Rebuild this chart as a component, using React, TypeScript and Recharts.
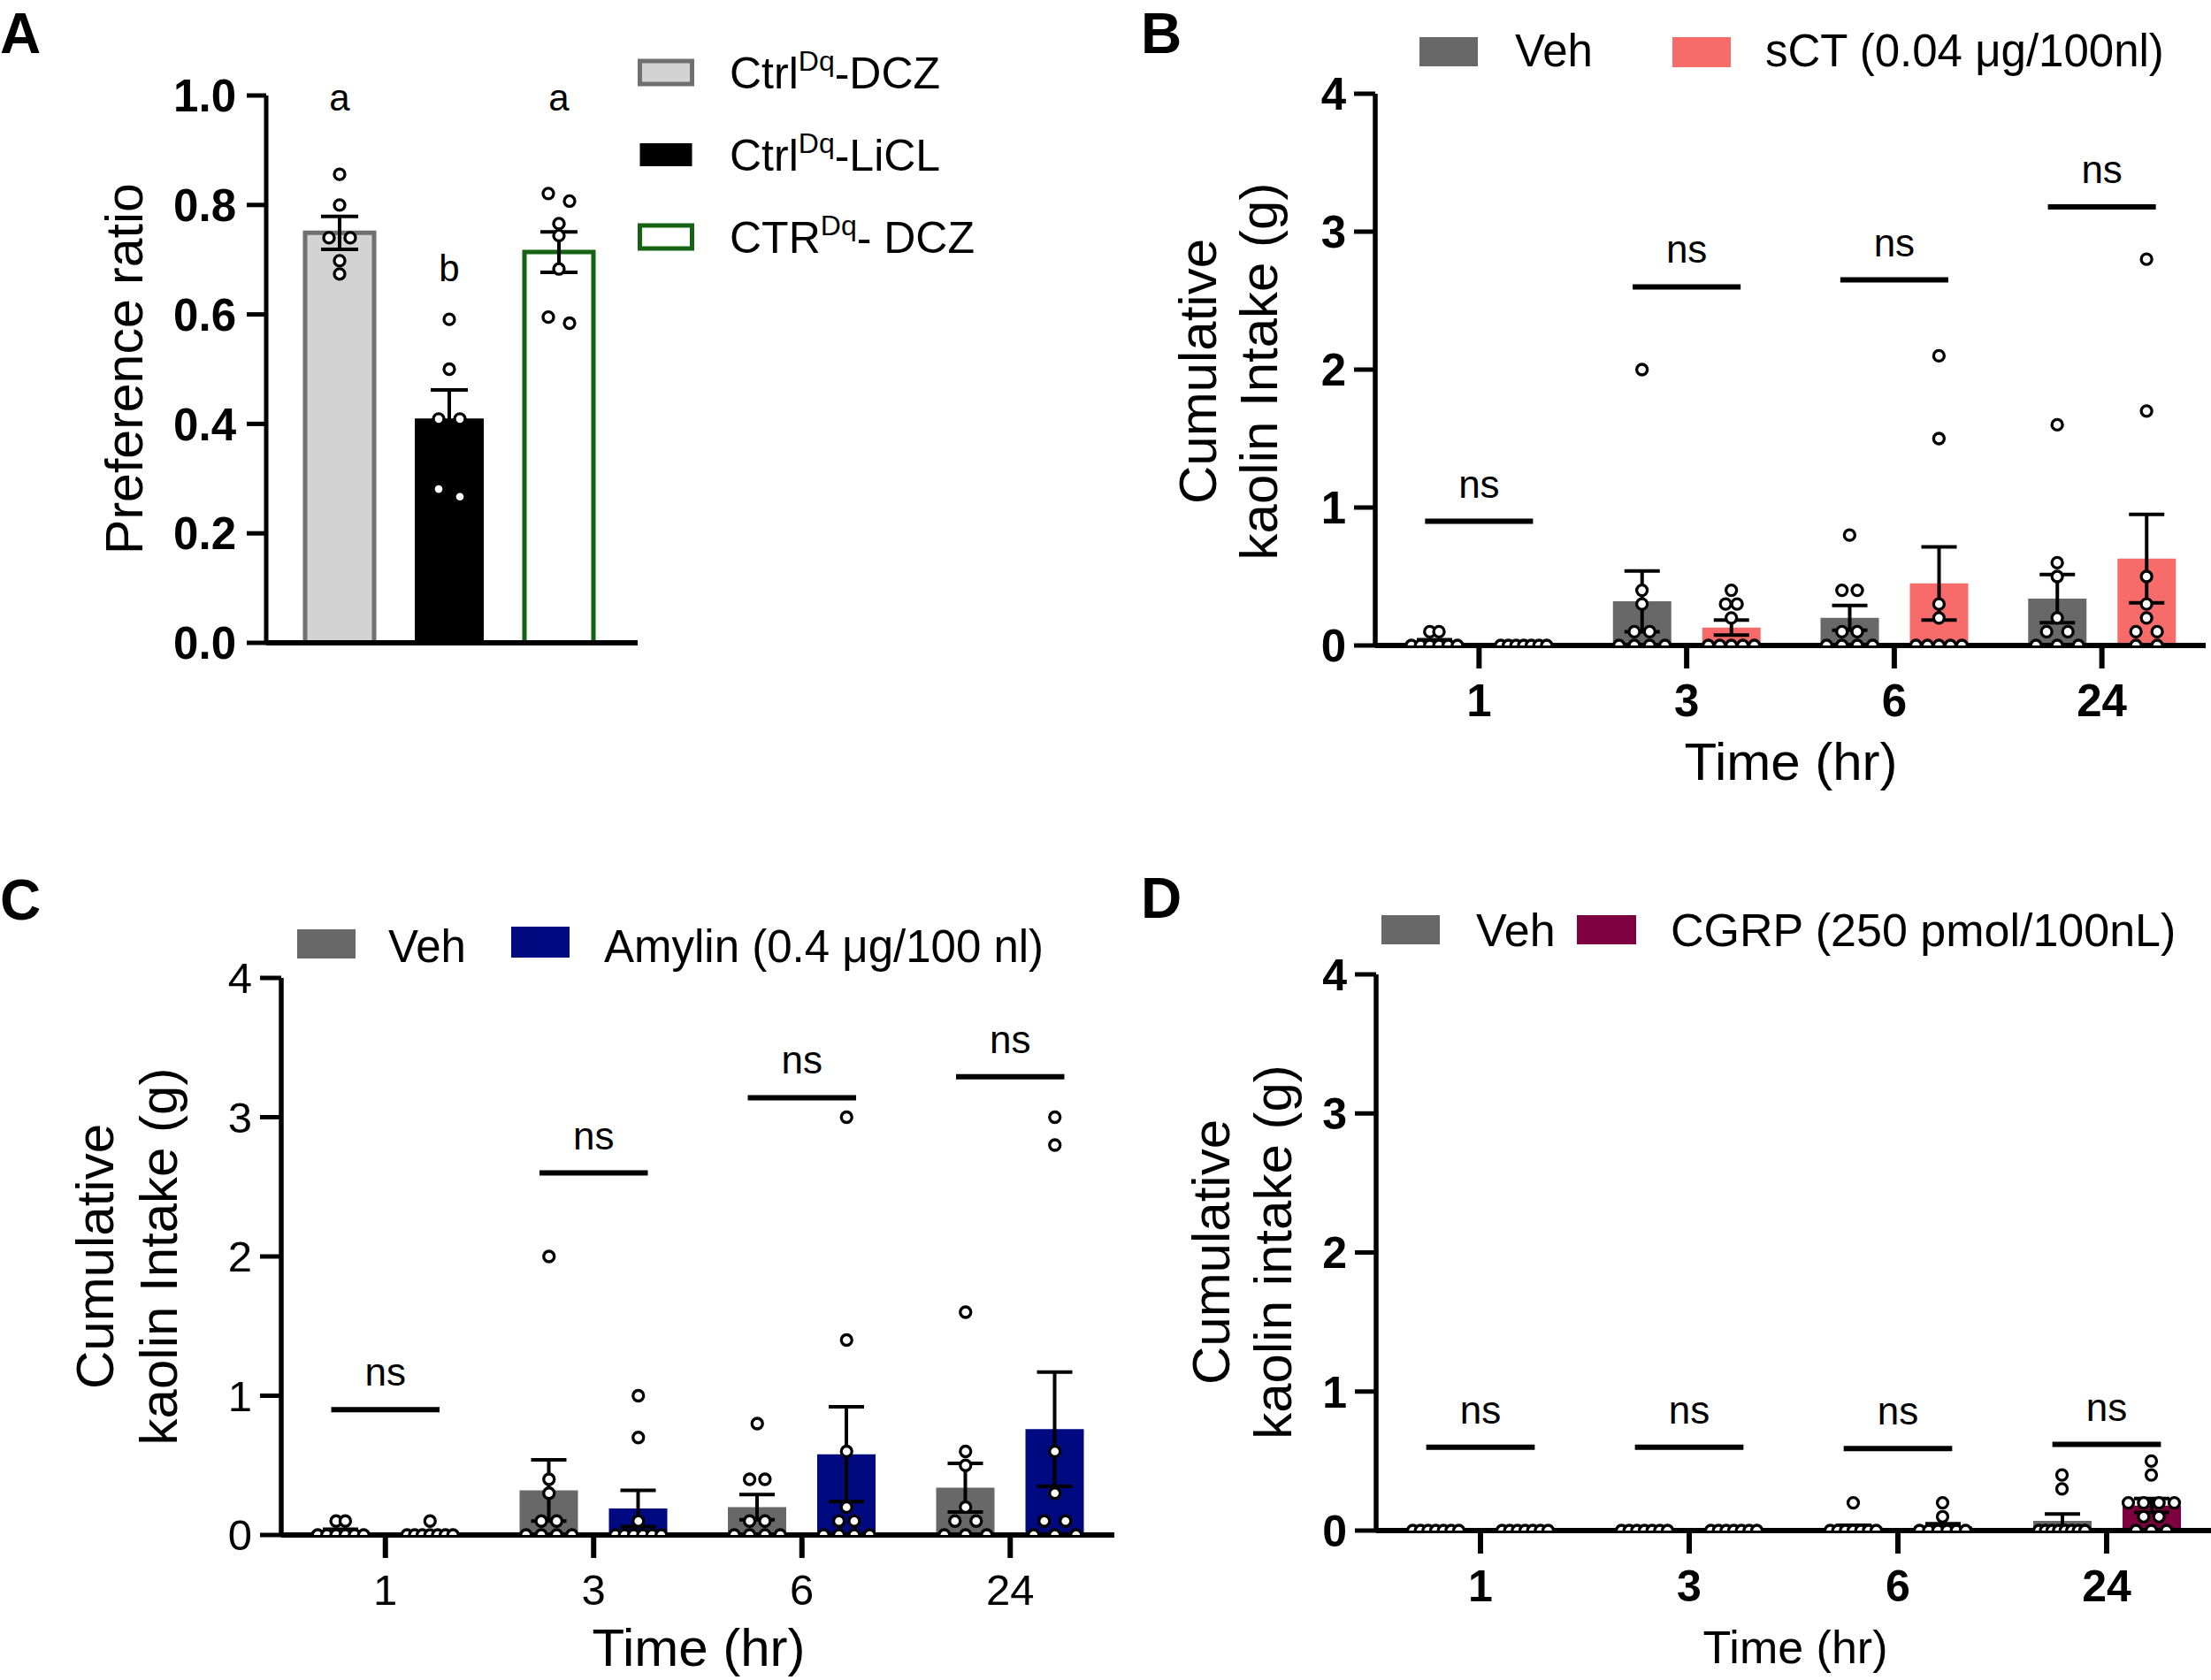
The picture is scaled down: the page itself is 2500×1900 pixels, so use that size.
import React from "react";
import {
  ComposedChart,
  Bar,
  Cell,
  XAxis,
  YAxis,
  Scatter,
  ErrorBar,
  ReferenceLine,
  ReferenceDot,
} from "recharts";

const FONT = "'Liberation Sans', Arial, Helvetica, sans-serif";

// ---- Panel A: preference ratio ----
const prefGroups = ["Ctrl-DCZ", "Ctrl-LiCL", "CTR-DCZ"];
const prefMeans = [0.749, 0.41, 0.714];
const prefSem = [0.03, 0.052, 0.037];
const prefPoints = [
  [0.856, 0.8, 0.74, 0.74, 0.698, 0.674],
  [0.591, 0.5, 0.409, 0.409, 0.281, 0.267],
  [0.821, 0.807, 0.766, 0.744, 0.683, 0.595, 0.584],
];
const prefLetters = ["a", "b", "a"];
const prefLetterY = [0.997, 0.685, 0.997];
const prefTicks = [0, 0.2, 0.4, 0.6, 0.8, 1.0];

// ---- Panels B-D: cumulative kaolin intake ----
const hours = ["1", "3", "6", "24"];
const kaolinTicks = [0, 1, 2, 3, 4];

// vehicle group (same animals in B and C)
const vehMeans = [0.025, 0.32, 0.2, 0.34];
const vehSem = [0.016, 0.22, 0.09, 0.175];
const vehPoints = [
  [0.1, 0.1, 0, 0, 0, 0, 0, 0],
  [2.0, 0.4, 0.3, 0.1, 0.1, 0, 0, 0, 0],
  [0.8, 0.4, 0.4, 0.1, 0.1, 0, 0, 0, 0],
  [1.6, 0.6, 0.5, 0.2, 0.1, 0.1, 0, 0, 0],
];

const sctMeans = [0, 0.13, 0.45, 0.63];
const sctSem = [0, 0.055, 0.265, 0.32];
const sctPoints = [
  [0, 0, 0, 0, 0, 0, 0],
  [0.4, 0.3, 0.3, 0.2, 0, 0, 0, 0, 0],
  [2.1, 1.5, 0.3, 0.2, 0, 0, 0, 0, 0],
  [2.8, 1.7, 0.5, 0.3, 0.2, 0.1, 0.1, 0, 0],
];
const sctNs = [0.9, 2.6, 2.65, 3.18];

const amyMeans = [0.012, 0.19, 0.58, 0.76];
const amySem = [0.012, 0.13, 0.34, 0.41];
const amyPoints = [
  [0.1, 0, 0, 0, 0, 0, 0, 0],
  [1.0, 0.7, 0.1, 0, 0, 0, 0, 0, 0],
  [3.0, 1.4, 0.6, 0.2, 0.1, 0.1, 0, 0, 0, 0],
  [3.0, 2.8, 0.6, 0.3, 0.1, 0.1, 0, 0, 0],
];
const amyNs = [0.9, 2.6, 3.14, 3.29];

const cgrpVehMeans = [0, 0, 0.02, 0.07];
const cgrpVehSem = [0, 0, 0.018, 0.05];
const cgrpVehPoints = [
  [0, 0, 0, 0, 0, 0, 0],
  [0, 0, 0, 0, 0, 0, 0],
  [0.2, 0, 0, 0, 0, 0, 0, 0],
  [0.4, 0.3, 0, 0, 0, 0, 0, 0, 0, 0],
];
const cgrpMeans = [0, 0, 0.03, 0.18];
const cgrpSem = [0, 0, 0.02, 0.05];
const cgrpPoints = [
  [0, 0, 0, 0, 0, 0, 0],
  [0, 0, 0, 0, 0, 0, 0],
  [0.2, 0.1, 0, 0, 0, 0, 0, 0],
  [0.5, 0.4, 0.2, 0.2, 0.2, 0.2, 0.1, 0.1, 0, 0, 0],
];
const cgrpNs = [0.6, 0.6, 0.59, 0.62];

const VEH = "#686868";
const SCT = "#f86b6b";
const AMYLIN = "#000a80";
const CGRP = "#7e0040";

// layout
const XH = 60;
const YW = 140;
const DOT_R = 6;
const DOT_D = 14;
const STEP_MAX = 24;
const BAR = 66;
const GAP = 35;

const AXIS = { stroke: "#000", strokeWidth: 6 };
const TICK = { stroke: "#000", strokeWidth: 6 };

// spread points that sit on the same row symmetrically, Prism style
function swarmOffsets(values: number[], pxPerUnit: number, barWidth: number) {
  const order = values.map((_, i) => i).sort((a, b) => values[b] - values[a]);
  const rows: number[][] = [];
  order.forEach((i) => {
    const row = rows[rows.length - 1];
    if (row && (values[row[0]] - values[i]) * pxPerUnit < DOT_D * 0.9) row.push(i);
    else rows.push([i]);
  });
  const widest = Math.max(...rows.map((r) => r.length));
  const step = widest > 1 ? Math.min(STEP_MAX, (barWidth - DOT_D) / (widest - 1)) : 0;
  const out = values.map(() => 0);
  rows.forEach((row) =>
    row.forEach((i, k) => {
      out[i] = (k - (row.length - 1) / 2) * step;
    })
  );
  return out;
}

const Dot = (props: any) => (
  <circle cx={props.cx} cy={props.cy} r={DOT_R} fill="#fff" stroke="#000" strokeWidth={3.3} />
);

function PreferencePanel() {
  const box = { x: 0, y: 0, w: 760, h: 900, mt: 108, mr: 39, mb: 113, ml: 171 };
  const yw = 130;
  const pad = { left: 21, right: 27 };
  const plotW = box.w - box.ml - yw - box.mr;
  const plotH = box.h - box.mt - box.mb - XH;
  const band = (plotW - pad.left - pad.right) / prefGroups.length;
  const fills = ["#d3d3d3", "#000000", "#ffffff"];
  const strokes = ["#707070", "none", "#136313"];

  const rows = prefGroups.map((g, i) => ({ name: g, mean: prefMeans[i], sem: prefSem[i] }));
  const dots = prefPoints.flatMap((vals, i) => {
    const off = swarmOffsets(vals, plotH, 78);
    return vals.map((v, k) => ({ gx: i + 0.5 + off[k] / band, v }));
  });

  return (
    <div style={{ position: "absolute", left: box.x, top: box.y }}>
      <ComposedChart
        width={box.w}
        height={box.h}
        data={rows}
        margin={{ top: box.mt, right: box.mr, bottom: box.mb, left: box.ml }}
      >
        <XAxis
          dataKey="name"
          height={XH}
          padding={pad}
          interval={0}
          tick={false}
          tickSize={27}
          axisLine={AXIS}
          tickLine={TICK}
        />
        <XAxis xAxisId="pts" type="number" dataKey="gx" domain={[0, 3]} padding={pad} allowDataOverflow hide />
        <YAxis
          width={yw}
          domain={[0, 1]}
          ticks={prefTicks}
          interval={0}
          allowDataOverflow
          tickFormatter={(v: number) => v.toFixed(1)}
          tickSize={22}
          tickMargin={12}
          axisLine={{ stroke: "#000", strokeWidth: 5 }}
          tickLine={{ stroke: "#000", strokeWidth: 5 }}
          tick={{ fill: "#000", fontSize: 51, fontWeight: 700 }}
        />
        <Bar dataKey="mean" barSize={78} isAnimationActive={false}>
          {rows.map((r, i) => (
            <Cell key={r.name} fill={fills[i]} stroke={strokes[i]} strokeWidth={5} />
          ))}
          <ErrorBar dataKey="sem" width={21} stroke="#000" strokeWidth={4} isAnimationActive={false} />
        </Bar>
        {prefLetters.map((l, i) => (
          <ReferenceDot
            key={i}
            xAxisId="pts"
            x={i + 0.5}
            y={prefLetterY[i]}
            r={0}
            fill="none"
            stroke="none"
            ifOverflow="visible"
            label={{ value: l, position: "center", fontSize: 42, fill: "#000" }}
          />
        ))}
        <Scatter xAxisId="pts" data={dots} dataKey="v" shape={Dot} isAnimationActive={false} />
      </ComposedChart>
    </div>
  );
}

type Group = { means: number[]; sem: number[]; points: number[][] };

function KaolinPanel(p: {
  box: { x: number; y: number; w: number; h: number; mt: number; mr: number; mb: number; ml: number };
  veh: Group;
  drug: Group;
  color: string;
  ns: number[];
  yBold: boolean;
  xBold: boolean;
  tickFont: number;
}) {
  const { box } = p;
  const plotW = box.w - box.ml - YW - box.mr;
  const plotH = box.h - box.mt - box.mb - XH;
  const band = plotW / hours.length;
  const ppu = plotH / 4;
  const half = (BAR + GAP) / 2;

  const rows = hours.map((h, i) => ({
    hour: h,
    veh: p.veh.means[i],
    vehErr: p.veh.sem[i],
    drug: p.drug.means[i],
    drugErr: p.drug.sem[i],
  }));

  const dots: { gx: number; v: number }[] = [];
  hours.forEach((_, i) => {
    ([
      [p.veh.points[i], -1],
      [p.drug.points[i], 1],
    ] as [number[], number][]).forEach(([vals, side]) => {
      const off = swarmOffsets(vals, ppu, BAR);
      vals.forEach((v, k) => dots.push({ gx: i + 0.5 + (side * half + off[k]) / band, v }));
    });
  });

  const tickStyle = (bold: boolean) => ({
    fill: "#000",
    fontSize: p.tickFont,
    fontWeight: bold ? 700 : 400,
  });

  return (
    <div style={{ position: "absolute", left: box.x, top: box.y }}>
      <ComposedChart
        width={box.w}
        height={box.h}
        data={rows}
        barGap={GAP}
        margin={{ top: box.mt, right: box.mr, bottom: box.mb, left: box.ml }}
      >
        <XAxis
          dataKey="hour"
          height={XH}
          interval={0}
          tickSize={26}
          tickMargin={18}
          axisLine={AXIS}
          tickLine={TICK}
          tick={tickStyle(p.xBold)}
        />
        <XAxis xAxisId="pts" type="number" dataKey="gx" domain={[0, 4]} allowDataOverflow hide />
        <YAxis
          width={YW}
          domain={[0, 4]}
          ticks={kaolinTicks}
          interval={0}
          allowDataOverflow
          tickSize={24}
          tickMargin={9}
          axisLine={{ stroke: "#000", strokeWidth: 5.5 }}
          tickLine={{ stroke: "#000", strokeWidth: 5 }}
          tick={tickStyle(p.yBold)}
        />
        <Bar dataKey="veh" fill={VEH} barSize={BAR} isAnimationActive={false}>
          <ErrorBar dataKey="vehErr" width={20} stroke="#000" strokeWidth={4} isAnimationActive={false} />
        </Bar>
        <Bar dataKey="drug" fill={p.color} barSize={BAR} isAnimationActive={false}>
          <ErrorBar dataKey="drugErr" width={20} stroke="#000" strokeWidth={4} isAnimationActive={false} />
        </Bar>
        {p.ns.map((y, i) => (
          <ReferenceLine
            key={i}
            xAxisId="pts"
            segment={[
              { x: i + 0.5 - 0.26, y },
              { x: i + 0.5 + 0.26, y },
            ]}
            stroke="#000"
            strokeWidth={6}
            ifOverflow="visible"
            label={{ value: "ns", position: "top", offset: 27, fontSize: 44, fill: "#000" }}
          />
        ))}
        <Scatter xAxisId="pts" data={dots} dataKey="v" shape={Dot} isAnimationActive={false} />
      </ComposedChart>
    </div>
  );
}

function Sup({ base, sup, rest, x, y, size }: { base: string; sup: string; rest: string; x: number; y: number; size: number }) {
  return (
    <text x={x} y={y} fontSize={size}>
      {base}
      <tspan fontSize={size * 0.64} dy={-size * 0.4}>
        {sup}
      </tspan>
      <tspan dy={size * 0.4}>{rest}</tspan>
    </text>
  );
}

function Overlay() {
  const legendA = [
    { fill: "#d3d3d3", stroke: "#707070", base: "Ctrl", rest: "-DCZ" },
    { fill: "#000000", stroke: "none", base: "Ctrl", rest: "-LiCL" },
    { fill: "#ffffff", stroke: "#136313", base: "CTR", rest: "- DCZ" },
  ];
  const rowY = [82, 175, 268];
  const yTitle = (x1: number, x2: number, cy: number, second: string) => (
    <>
      <text transform={`translate(${x1},${cy}) rotate(-90)`} textAnchor="middle" fontSize={60}>
        Cumulative
      </text>
      <text transform={`translate(${x2},${cy}) rotate(-90)`} textAnchor="middle" fontSize={60}>
        {second}
      </text>
    </>
  );
  return (
    <svg
      width={2500}
      height={1900}
      style={{ position: "absolute", left: 0, top: 0, pointerEvents: "none" }}
      fontFamily={FONT}
      fill="#000"
    >
      <text x={0} y={60} fontSize={64} fontWeight={700}>A</text>
      <text x={1290} y={60} fontSize={64} fontWeight={700}>B</text>
      <text x={0} y={1040} fontSize={64} fontWeight={700}>C</text>
      <text x={1290} y={1038} fontSize={64} fontWeight={700}>D</text>

      {/* panel A */}
      <text transform="translate(161,417) rotate(-90)" textAnchor="middle" fontSize={59}>
        Preference ratio
      </text>
      {legendA.map((l, i) => (
        <g key={i}>
          <rect x={723.5} y={rowY[i] - 13} width={59} height={26} fill={l.fill} stroke={l.stroke} strokeWidth={5} />
          <Sup x={825} y={rowY[i] + 18} size={50} base={l.base} sup="Dq" rest={l.rest} />
        </g>
      ))}

      {/* panel B */}
      {yTitle(1375, 1444, 420, "kaolin Intake (g)")}
      <text x={2025} y={882} textAnchor="middle" fontSize={60}>Time (hr)</text>
      <rect x={1605} y={42} width={66} height={33} fill={VEH} />
      <text x={1713} y={75} fontSize={51}>Veh</text>
      <rect x={1891} y={42} width={66} height={34} fill={SCT} />
      <text x={1996} y={75} fontSize={51}>sCT (0.04 μg/100nl)</text>

      {/* panel C */}
      {yTitle(128, 200, 1421, "kaolin Intake (g)")}
      <text x={790} y={1884} textAnchor="middle" fontSize={60}>Time (hr)</text>
      <rect x={336} y={1051} width={66} height={33} fill={VEH} />
      <text x={439} y={1088} fontSize={51}>Veh</text>
      <rect x={578} y={1048} width={66} height={35} fill={AMYLIN} />
      <text x={683} y={1088} fontSize={51}>Amylin (0.4 μg/100 nl)</text>

      {/* panel D */}
      {yTitle(1390, 1460, 1416, "kaolin intake (g)")}
      <text x={2030} y={1881} textAnchor="middle" fontSize={52}>Time (hr)</text>
      <rect x={1562} y={1035} width={66} height={33} fill={VEH} />
      <text x={1669} y={1070} fontSize={52}>Veh</text>
      <rect x={1783} y={1035} width={67} height={33} fill={CGRP} />
      <text x={1889} y={1070} fontSize={52}>CGRP (250 pmol/100nL)</text>
    </svg>
  );
}

export default function App() {
  return (
    <div
      style={{
        position: "absolute",
        left: 0,
        top: 0,
        width: 2500,
        height: 1900,
        overflow: "hidden",
        background: "#fff",
        fontFamily: FONT,
      }}
    >
      <PreferencePanel />
      <KaolinPanel
        box={{ x: 1290, y: 0, w: 1210, h: 900, mt: 106, mr: 6, mb: 110, ml: 125 }}
        veh={{ means: vehMeans, sem: vehSem, points: vehPoints }}
        drug={{ means: sctMeans, sem: sctSem, points: sctPoints }}
        color={SCT}
        ns={sctNs}
        yBold
        xBold
        tickFont={51}
      />
      <KaolinPanel
        box={{ x: 0, y: 960, w: 1290, h: 940, mt: 146, mr: 30, mb: 104, ml: 178 }}
        veh={{ means: vehMeans, sem: vehSem, points: vehPoints }}
        drug={{ means: amyMeans, sem: amySem, points: amyPoints }}
        color={AMYLIN}
        ns={amyNs}
        yBold={false}
        xBold={false}
        tickFont={49}
      />
      <KaolinPanel
        box={{ x: 1290, y: 960, w: 1210, h: 940, mt: 142, mr: 0, mb: 109, ml: 126 }}
        veh={{ means: cgrpVehMeans, sem: cgrpVehSem, points: cgrpVehPoints }}
        drug={{ means: cgrpMeans, sem: cgrpSem, points: cgrpPoints }}
        color={CGRP}
        ns={cgrpNs}
        yBold
        xBold
        tickFont={50}
      />
      <Overlay />
    </div>
  );
}
